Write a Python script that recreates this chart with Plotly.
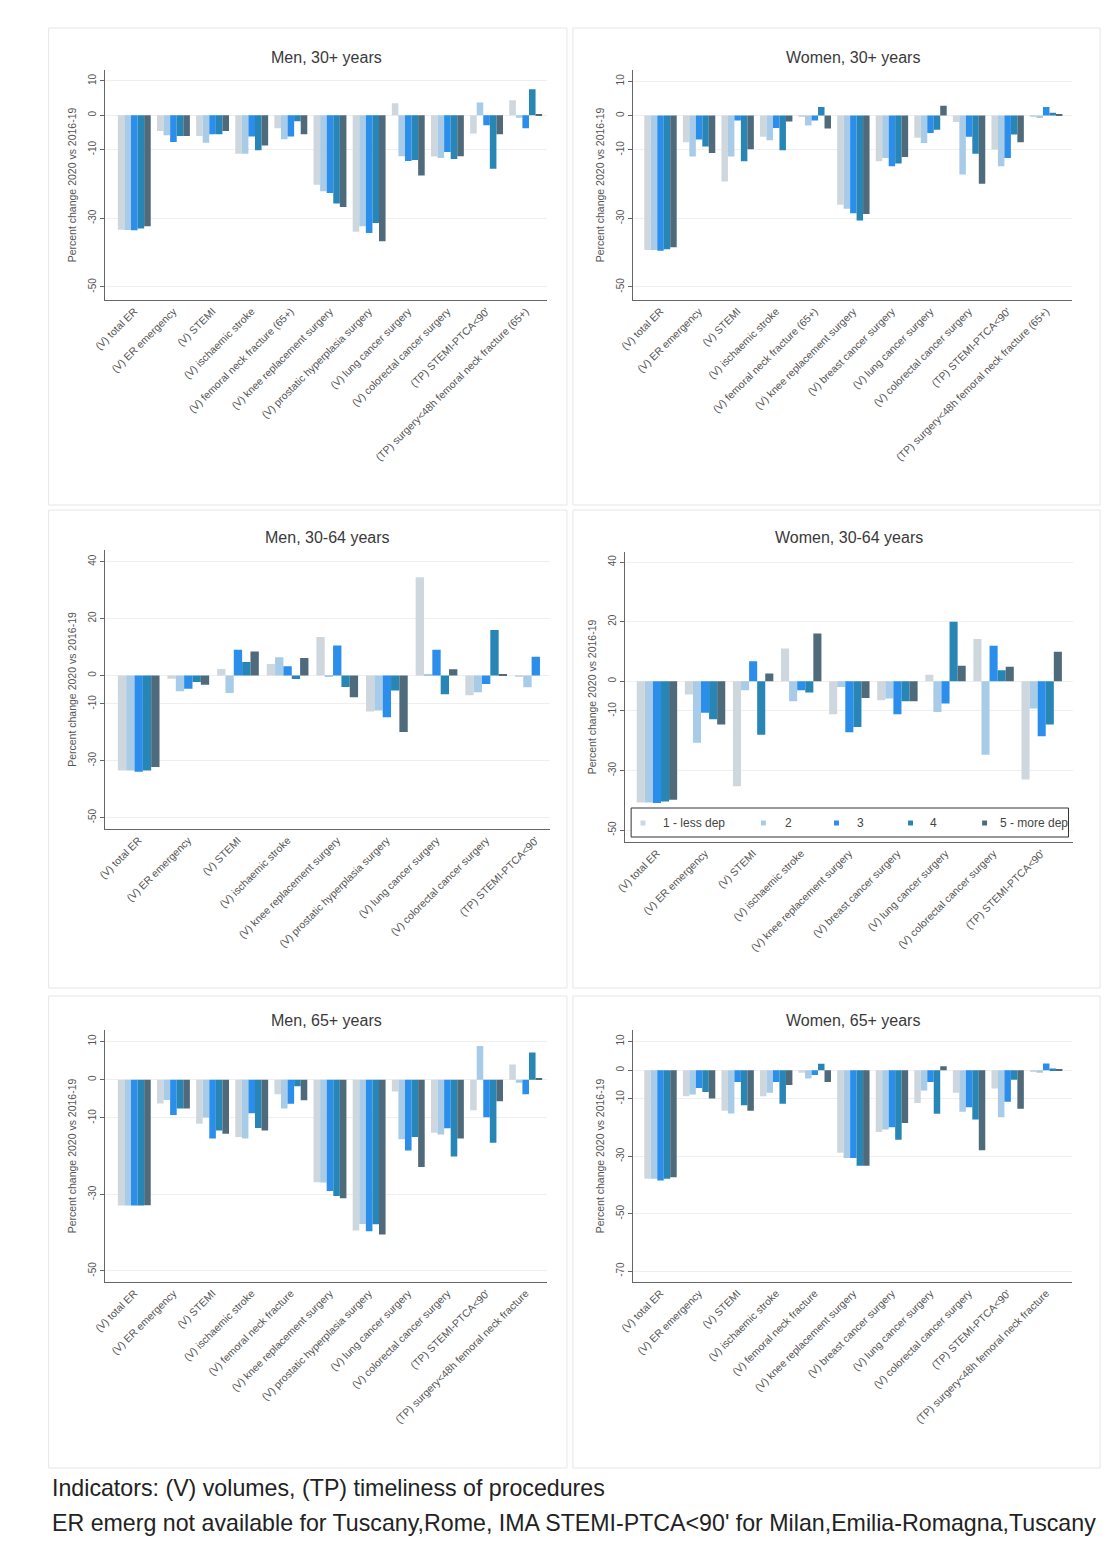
import plotly.graph_objects as go

# The page body adds an 8px margin, so the figure is 16px smaller than the window
OFF = 8
W, H = 1115 - 2 * OFF, 1557 - 2 * OFF

# ---------------- categories ----------------
cats_men_30 = ["(V) total ER", "(V) ER emergency", "(V) STEMI", "(V) ischaemic stroke",
               "(V) femoral neck fracture (65+)", "(V) knee replacement surgery",
               "(V) prostatic hyperplasia surgery", "(V) lung cancer surgery",
               "(V) colorectal cancer surgery", "(TP) STEMI-PTCA<90'",
               "(TP) surgery<48h femoral neck fracture (65+)"]
cats_women_30 = ["(V) total ER", "(V) ER emergency", "(V) STEMI", "(V) ischaemic stroke",
                 "(V) femoral neck fracture (65+)", "(V) knee replacement surgery",
                 "(V) breast cancer surgery", "(V) lung cancer surgery",
                 "(V) colorectal cancer surgery", "(TP) STEMI-PTCA<90'",
                 "(TP) surgery<48h femoral neck fracture (65+)"]
cats_men_3064 = ["(V) total ER", "(V) ER emergency", "(V) STEMI", "(V) ischaemic stroke",
                 "(V) knee replacement surgery", "(V) prostatic hyperplasia surgery",
                 "(V) lung cancer surgery", "(V) colorectal cancer surgery",
                 "(TP) STEMI-PTCA<90'"]
cats_women_3064 = ["(V) total ER", "(V) ER emergency", "(V) STEMI", "(V) ischaemic stroke",
                   "(V) knee replacement surgery", "(V) breast cancer surgery",
                   "(V) lung cancer surgery", "(V) colorectal cancer surgery",
                   "(TP) STEMI-PTCA<90'"]
cats_men_65 = ["(V) total ER", "(V) ER emergency", "(V) STEMI", "(V) ischaemic stroke",
               "(V) femoral neck fracture", "(V) knee replacement surgery",
               "(V) prostatic hyperplasia surgery", "(V) lung cancer surgery",
               "(V) colorectal cancer surgery", "(TP) STEMI-PTCA<90'",
               "(TP) surgery<48h femoral neck fracture"]
cats_women_65 = ["(V) total ER", "(V) ER emergency", "(V) STEMI", "(V) ischaemic stroke",
                 "(V) femoral neck fracture", "(V) knee replacement surgery",
                 "(V) breast cancer surgery", "(V) lung cancer surgery",
                 "(V) colorectal cancer surgery", "(TP) STEMI-PTCA<90'",
                 "(TP) surgery<48h femoral neck fracture"]

series_names = ["1 - less dep", "2", "3", "4", "5 - more dep"]
series_colors = ["#cfd7de", "#a8cbe8", "#2a8eea", "#2786b6", "#4f6a7a"]

# ---------------- values: Men, 30+ ----------------
men30_q1 = [-33.3, -4.6, -6.0, -11.2, -3.8, -20.2, -33.9, 3.5, -12.0, -5.3, 4.4]
men30_q2 = [-33.4, -5.8, -8.0, -11.2, -7.0, -22.1, -32.3, -11.9, -12.4, 3.7, -0.7]
men30_q3 = [-33.5, -7.8, -5.5, -6.2, -6.2, -22.6, -34.3, -13.3, -10.7, -2.9, -3.8]
men30_q4 = [-33.0, -6.0, -5.5, -10.2, -1.7, -25.7, -31.4, -13.0, -12.7, -15.6, 7.6]
men30_q5 = [-32.3, -6.0, -4.6, -8.8, -5.5, -26.7, -36.7, -17.5, -11.9, -5.5, 0.3]

# ---------------- values: Women, 30+ ----------------
women30_q1 = [-39.2, -7.8, -19.2, -6.2, -0.4, -26.0, -13.3, -6.5, -1.9, -9.9, -0.4]
women30_q2 = [-39.2, -11.9, -11.9, -7.2, -2.9, -27.2, -12.4, -8.0, -17.2, -14.8, -0.7]
women30_q3 = [-39.4, -7.0, -1.4, -3.6, -1.4, -28.5, -14.8, -5.1, -6.2, -12.4, 2.5]
women30_q4 = [-39.0, -9.0, -13.3, -10.1, 2.5, -30.6, -14.0, -4.1, -11.1, -5.5, 0.8]
women30_q5 = [-38.4, -10.9, -9.8, -1.7, -3.8, -28.7, -12.1, 2.9, -19.9, -7.8, 0.4]

# ---------------- values: Men, 30-64 ----------------
men3064_q1 = [-33.4, -1.2, 2.3, 4.0, 13.5, -12.7, 34.5, -7.0, -0.5]
men3064_q2 = [-33.4, -5.6, -6.2, 6.4, -0.4, -12.3, 0.2, -5.9, -4.2]
men3064_q3 = [-33.9, -4.7, 9.0, 3.2, 10.5, -14.7, 9.0, -3.0, 6.6]
men3064_q4 = [-33.4, -2.3, 4.7, -1.3, -4.1, -5.3, -6.6, 16.0, None]
men3064_q5 = [-32.2, -3.3, 8.4, 6.1, -7.7, -19.9, 2.2, 0.2, None]

# ---------------- values: Women, 30-64 ----------------
women3064_q1 = [-40.7, -4.5, -35.3, 11.0, -11.1, -6.4, 2.2, 14.2, -33.0]
women3064_q2 = [-40.7, -20.7, -3.0, -6.7, -1.9, -5.8, -10.3, -24.7, -9.2]
women3064_q3 = [-40.9, -10.6, 6.7, -3.0, -17.1, -11.1, -7.5, 11.9, -18.5]
women3064_q4 = [-40.4, -12.8, -18.0, -3.8, -15.4, -6.7, 20.0, 3.7, -14.5]
women3064_q5 = [-39.8, -14.5, 2.6, 16.0, -5.6, -6.7, 5.2, 4.9, 9.9]

# ---------------- values: Men, 65+ ----------------
men65_q1 = [-32.9, -6.2, -11.5, -15.0, -3.8, -26.8, -39.4, -3.1, -13.9, -8.0, 4.0]
men65_q2 = [-32.9, -5.3, -9.9, -15.4, -7.5, -26.9, -37.7, -15.6, -14.3, 8.8, -0.8]
men65_q3 = [-32.9, -9.2, -15.4, -8.8, -6.3, -29.1, -39.6, -18.5, -12.7, -9.8, -3.8]
men65_q4 = [-32.9, -7.5, -13.3, -12.6, -1.7, -30.4, -37.8, -15.0, -20.1, -16.5, 7.1]
men65_q5 = [-32.8, -7.5, -14.1, -13.3, -5.4, -31.0, -40.5, -22.8, -15.4, -5.6, 0.3]

# ---------------- values: Women, 65+ ----------------
women65_q1 = [-37.8, -9.1, -14.1, -9.1, -0.9, -28.8, -21.5, -11.4, -7.9, -6.4, -0.6]
women65_q2 = [-37.8, -8.5, -15.1, -7.9, -2.9, -30.6, -20.7, -7.1, -14.5, -16.4, -0.9]
women65_q3 = [-38.4, -6.2, -4.1, -4.1, -1.7, -30.6, -19.9, -4.1, -12.9, -11.0, 2.3]
women65_q4 = [-37.8, -7.6, -12.2, -11.7, 2.2, -33.3, -24.2, -15.2, -17.2, -3.3, 0.6]
women65_q5 = [-37.3, -9.9, -14.1, -5.2, -4.1, -33.3, -18.4, 1.4, -27.9, -13.4, 0.2]

# y tick labels per panel
yticks_a = [10, 0, -10, -30, -50]
yticks_b = [40, 20, 0, -10, -30, -50]
yticks_c = [10, 0, -10, -30, -50, -70]

panel_titles = ["Men, 30+ years", "Women, 30+ years", "Men, 30-64 years",
                "Women, 30-64 years", "Men, 65+ years", "Women, 65+ years"]
ytitle = "Percent change 2020 vs 2016-19"
note1 = "Indicators: (V) volumes, (TP) timeliness of procedures"
note2 = "ER emerg not available for Tuscany,Rome, IMA STEMI-PTCA<90' for Milan,Emilia-Romagna,Tuscany"

# ---------------- layout geometry (window pixels) ----------------
panels = [
    dict(cats=cats_men_30, vals=[men30_q1, men30_q2, men30_q3, men30_q4, men30_q5],
         px=(92, 540, 70, 300), yr=(-53.8, 13.2), xr=(-0.75, 10.55), yt=yticks_a),
    dict(cats=cats_women_30, vals=[women30_q1, women30_q2, women30_q3, women30_q4, women30_q5],
         px=(627, 1072, 70, 300), yr=(-53.8, 13.3), xr=(-0.71, 10.68), yt=yticks_a),
    dict(cats=cats_men_3064, vals=[men3064_q1, men3064_q2, men3064_q3, men3064_q4, men3064_q5],
         px=(92, 543, 550, 829), yr=(-54.0, 44.1), xr=(-0.68, 8.29), yt=yticks_b),
    dict(cats=cats_women_3064, vals=[women3064_q1, women3064_q2, women3064_q3, women3064_q4, women3064_q5],
         px=(619, 1073, 552, 842), yr=(-54.0, 43.4), xr=(-0.66, 8.66), yt=yticks_b),
    dict(cats=cats_men_65, vals=[men65_q1, men65_q2, men65_q3, men65_q4, men65_q5],
         px=(92, 540, 1030, 1282), yr=(-52.9, 13.0), xr=(-0.75, 10.55), yt=yticks_a),
    dict(cats=cats_women_65, vals=[women65_q1, women65_q2, women65_q3, women65_q4, women65_q5],
         px=(627, 1072, 1030, 1282), yr=(-73.8, 14.0), xr=(-0.71, 10.68), yt=yticks_c),
]
title_y = [58, 58, 538, 538, 1020, 1020]
frames = [(35, 560, 28, 505), (566, 1100, 28, 505),
          (35, 560, 510, 988), (566, 1100, 510, 988),
          (35, 560, 996, 1468), (566, 1100, 996, 1468)]

# legend (inside the "Women, 30-64 years" panel)
legend_box = (625, 1068, 808, 837)
legend_marker_x = [637, 759, 833, 908, 983]
legend_text_x = [655, 779, 852, 926, 997]
legend_y = 823

FONT = "Liberation Sans, Arial, sans-serif"

def fx(p):
    return (p - OFF) / W

def fy(p):
    return 1 - (p - OFF) / H

fig = go.Figure()
layout = dict(width=W, height=H, margin=dict(l=0, r=0, t=0, b=0),
              paper_bgcolor="white", plot_bgcolor="white",
              barmode="group", bargap=0.16, bargroupgap=0,
              font=dict(family=FONT, color="#333"),
              showlegend=False)

annotations = []
shapes = []

for i, p in enumerate(panels):
    k = "" if i == 0 else str(i + 1)
    xa, ya = "x" + k, "y" + k
    x0, x1, y0, y1 = p["px"]
    for s in range(5):
        fig.add_trace(go.Bar(x=p["cats"], y=p["vals"][s], name=series_names[s],
                             marker=dict(color=series_colors[s], line=dict(width=0)),
                             xaxis=xa, yaxis=ya, showlegend=False))
    layout["xaxis" + k] = dict(domain=[fx(x0), fx(x1)], anchor=ya, type="category",
                               categoryorder="array", categoryarray=p["cats"],
                               range=list(p["xr"]), showline=True, linecolor="#666",
                               linewidth=1.3, showgrid=False, ticks="", tickangle=-45,
                               tickfont=dict(size=10.5, color="#555", family=FONT),
                               fixedrange=True)
    layout["yaxis" + k] = dict(domain=[fy(y1), fy(y0)], anchor=xa, range=list(p["yr"]),
                               tickvals=p["yt"], ticktext=[str(v) for v in p["yt"]],
                               tickangle=-90, ticks="outside", ticklen=4, tickcolor="#666",
                               showline=True, linecolor="#666", linewidth=1.3,
                               showgrid=True, gridcolor="#efefef", gridwidth=1,
                               zeroline=False,
                               tickfont=dict(size=10, color="#555", family=FONT),
                               title=dict(text=ytitle, font=dict(size=10.5, color="#555", family=FONT),
                                          standoff=8),
                               fixedrange=True)
    annotations.append(dict(text=panel_titles[i], x=fx((x0 + x1) / 2), y=fy(title_y[i]),
                            xref="paper", yref="paper", xanchor="center", yanchor="middle",
                            showarrow=False, font=dict(size=16, color="#3a3a3a", family=FONT)))
    fx0, fx1, fy0, fy1 = frames[i]
    shapes.append(dict(type="rect", xref="paper", yref="paper",
                       x0=fx(fx0), x1=fx(fx1), y0=fy(fy1), y1=fy(fy0),
                       line=dict(color="#e6e6e6", width=1), layer="below"))

# legend box drawn like the original (Stata style, small square keys)
lx0, lx1, ly0, ly1 = legend_box
shapes.append(dict(type="rect", xref="paper", yref="paper",
                   x0=fx(lx0), x1=fx(lx1), y0=fy(ly1), y1=fy(ly0),
                   line=dict(color="#333", width=1), fillcolor="white", layer="above"))
for s in range(5):
    mx = legend_marker_x[s]
    shapes.append(dict(type="rect", xref="paper", yref="paper",
                       x0=fx(mx - 2.5), x1=fx(mx + 2.5), y0=fy(legend_y + 2.5), y1=fy(legend_y - 2.5),
                       line=dict(width=0), fillcolor=series_colors[s], layer="above"))
    annotations.append(dict(text=series_names[s], x=fx(legend_text_x[s]), y=fy(legend_y),
                            xref="paper", yref="paper", xanchor="left", yanchor="middle",
                            showarrow=False, font=dict(size=12, color="#444", family=FONT)))

annotations.append(dict(text=note1, x=fx(36), y=fy(1488), xref="paper", yref="paper",
                        xanchor="left", yanchor="middle", showarrow=False,
                        font=dict(size=23.2, color="#222", family=FONT)))
annotations.append(dict(text=note2, x=fx(36), y=fy(1523), xref="paper", yref="paper",
                        xanchor="left", yanchor="middle", showarrow=False,
                        font=dict(size=23.2, color="#222", family=FONT)))

layout["annotations"] = annotations
layout["shapes"] = shapes
fig.update_layout(**layout)

fig.write_html("out.html")
